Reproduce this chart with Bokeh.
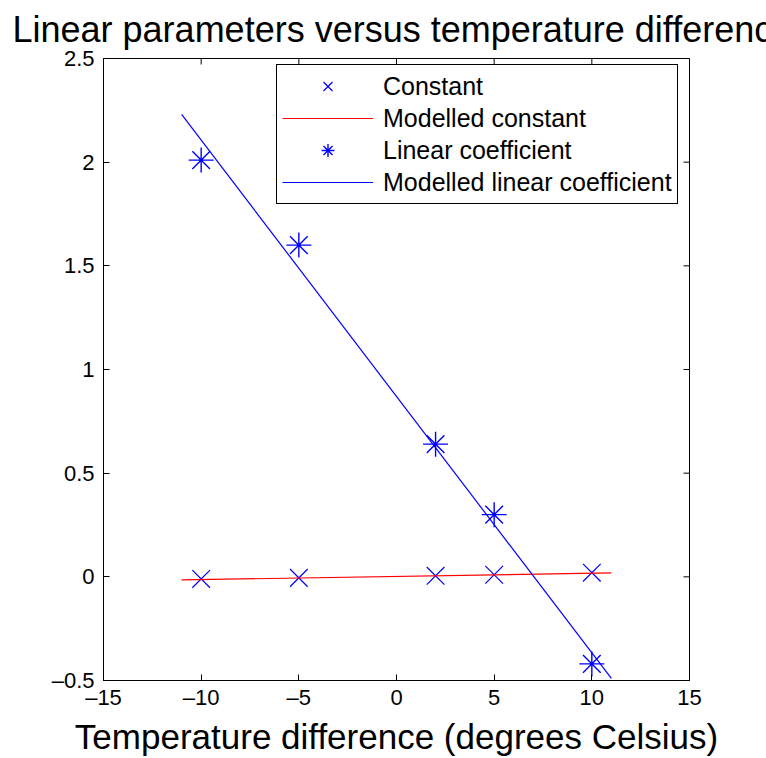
import math
from bokeh.plotting import figure
from bokeh.models import LinearAxis, FixedTicker, Legend, LegendItem, Range1d
from bokeh.embed import file_html
from bokeh.resources import INLINE

# ---- data ----
temp_diff = [-10, -5, 2, 5, 10]
constant = [-0.01, -0.005, 0.005, 0.01, 0.02]
linear_coef = [2.01, 1.60, 0.64, 0.30, -0.42]
model_x = [-11, 11]
model_constant = [-0.015, 0.019]
model_linear = [2.23, -0.49]

x_ticks = [-15, -10, -5, 0, 5, 10, 15]
x_tick_labels = ["–15", "–10", "–5", "0", "5", "10", "15"]
y_ticks = [-0.5, 0, 0.5, 1, 1.5, 2, 2.5]
y_tick_labels = ["–0.5", "0", "0.5", "1", "1.5", "2", "2.5"]

title_text = "Linear parameters versus temperature difference"
x_label = "Temperature difference (degrees Celsius)"

FONT = "Liberation Sans"
BLUE = "#0000ff"
RED = "#ff0000"

x_min, x_max = x_ticks[0], x_ticks[-1]
y_min, y_max = y_ticks[0], y_ticks[-1]

p = figure(width=766, height=758, output_backend="svg", toolbar_location=None,
           x_range=Range1d(x_min, x_max), y_range=Range1d(y_min, y_max),
           min_border_left=103, min_border_right=77, min_border_top=58,
           min_border_bottom=76, x_axis_location=None, y_axis_location=None)

p.grid.visible = False
p.outline_line_color = "black"
p.outline_line_alpha = 1
p.outline_line_width = 1
p.background_fill_color = "white"
p.border_fill_color = "white"

p.title.text = title_text
p.title.text_font = FONT
p.title.text_font_size = "36px"
p.title.text_font_style = "normal"
p.title.text_color = "black"
p.title.align = "left"
p.title.vertical_align = "top"
p.title.offset = -91
p.title.standoff = 14

def make_axis(ticks, labels):
    ax = LinearAxis(ticker=FixedTicker(ticks=ticks))
    ax.major_label_overrides = {t: l for t, l in zip(ticks, labels)}
    ax.major_tick_in = 6
    ax.major_tick_out = 0
    ax.minor_tick_line_color = None
    ax.axis_line_color = "black"
    ax.major_tick_line_color = "black"
    ax.major_label_text_font = FONT
    ax.major_label_text_color = "black"
    ax.major_label_text_font_size = "22px"
    return ax

bottom = make_axis(x_ticks, x_tick_labels)
bottom.major_label_standoff = 4
bottom.axis_label = x_label
bottom.axis_label_text_font = FONT
bottom.axis_label_text_font_size = "35px"
bottom.axis_label_text_font_style = "normal"
bottom.axis_label_text_color = "black"
bottom.axis_label_standoff = 4
left = make_axis(y_ticks, y_tick_labels)
left.major_label_standoff = 9
p.add_layout(bottom, "below")
p.add_layout(left, "left")

# inward ticks on the top and right edges of the box
p.ray(x=x_ticks, y=[y_max] * len(x_ticks), length=6, length_units="screen",
      angle=-math.pi / 2, line_color="black", line_width=1)
p.ray(x=[x_max] * len(y_ticks), y=y_ticks, length=6, length_units="screen",
      angle=math.pi, line_color="black", line_width=1)

r_const = p.scatter(temp_diff, constant, marker="x", size=25, line_color=BLUE, line_width=1.2)
r_mconst = p.line(model_x, model_constant, line_color=RED, line_width=1.2)
r_lin = p.scatter(temp_diff, linear_coef, marker="asterisk", size=25, line_color=BLUE, line_width=1.4)
r_mlin = p.line(model_x, model_linear, line_color=BLUE, line_width=1.2)

legend = Legend(items=[
    LegendItem(label="Constant", renderers=[r_const]),
    LegendItem(label="Modelled constant", renderers=[r_mconst]),
    LegendItem(label="Linear coefficient", renderers=[r_lin]),
    LegendItem(label="Modelled linear coefficient", renderers=[r_mlin]),
], location=(173, 476))
legend.label_text_font = FONT
legend.label_text_font_size = "25px"
legend.label_text_color = "black"
legend.glyph_width = 91
legend.glyph_height = 32
legend.label_height = 32
legend.spacing = 0
legend.padding = 5
legend.margin = 0
legend.label_standoff = 10
legend.border_line_color = "black"
legend.border_line_alpha = 1
legend.border_line_width = 1.5
legend.background_fill_alpha = 1
p.add_layout(legend, "center")

open("out.html", "w").write(file_html(p, INLINE))
